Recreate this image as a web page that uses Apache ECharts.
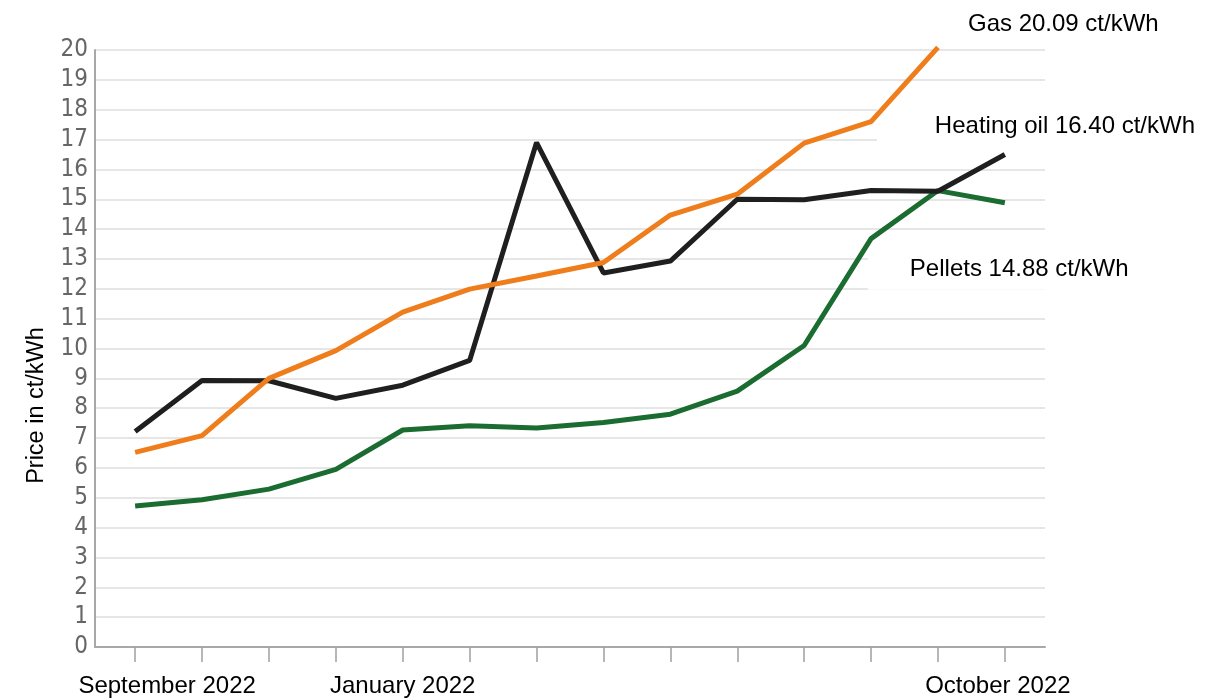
<!DOCTYPE html>
<html>
<head>
<meta charset="utf-8">
<script src="https://cdn.jsdelivr.net/npm/echarts@6/dist/echarts.min.js"></script>
<style>
html,body{margin:0;padding:0;background:#fff;}
#c{width:1216px;height:700px;}
</style>
</head>
<body>
<div id="c"></div>
<script>
// ---- data (monthly, 14 months) ----
const xTickLabels = ['September 2022', '', '', '', 'January 2022', '', '', '', '', '', '', '', '', 'October 2022'];
const xLabelIdx = [0, 4, 13];
const heatingOil = [7.22, 8.93, 8.92, 8.33, 8.77, 9.60, 16.90, 12.53, 12.93, 15.00, 14.98, 15.29, 15.27, 16.50];
const gas = [6.52, 7.08, 9.00, 9.93, 11.22, 11.99, 12.43, 12.88, 14.47, 15.17, 16.88, 17.60, 20.09];
const pellets = [4.72, 4.93, 5.29, 5.95, 7.27, 7.41, 7.34, 7.52, 7.80, 8.57, 10.10, 13.68, 15.29, 14.88];
const seriesNames = ['Heating oil', 'Gas', 'Pellets'];
const endLabelTexts = ['Heating oil 16.40 ct/kWh', 'Gas 20.09 ct/kWh', 'Pellets 14.88 ct/kWh'];
const yAxisTitle = 'Price in ct/kWh';

const FONT = "'Liberation Sans', Arial, sans-serif";
const TICKFONT = "'DejaVu Sans Condensed', 'DejaVu Sans', sans-serif";

function pairs(arr) { return arr.map((v, i) => [i, v]); }

function endLabel(text, offset, padding, bg) {
  return {
    show: true,
    formatter: text,
    align: 'left',
    verticalAlign: 'middle',
    distance: 0,
    offset: offset,
    color: '#000',
    fontFamily: FONT,
    fontSize: 24,
    lineHeight: 28,
    padding: padding,
    backgroundColor: bg
  };
}

const chart = echarts.init(document.getElementById('c'), null, { renderer: 'canvas' });
chart.setOption({
  animation: false,
  backgroundColor: '#fff',
  grid: { left: 95, right: 171, top: 50, bottom: 52, containLabel: false },
  xAxis: {
    type: 'value',
    min: -0.6,
    max: 13.6,
    splitLine: { show: false },
    axisLine: { show: true, onZero: false, lineStyle: { color: '#a8a8a8', width: 2 } },
    axisTick: {
      show: true,
      customValues: xTickLabels.map((_, i) => i),
      length: 15,
      lineStyle: { color: '#a0a0a0', width: 1.5 }
    },
    axisLabel: {
      show: true,
      customValues: xLabelIdx,
      margin: 25,
      color: '#000',
      fontFamily: FONT,
      fontSize: 24,
      lineHeight: 28,
      formatter: function (v) {
        const i = Math.round(v);
        const t = xTickLabels[i] || '';
        return i === 0 ? '{first|' + t + '}' : (i === xTickLabels.length - 1 ? '{last|' + t + '}' : t);
      },
      rich: {
        first: { fontFamily: FONT, fontSize: 24, lineHeight: 28, color: '#000', padding: [0, 0, 0, 64] },
        last: { fontFamily: FONT, fontSize: 24, lineHeight: 28, color: '#000', padding: [0, 14, 0, 0] }
      }
    }
  },
  yAxis: {
    type: 'value',
    min: 0,
    max: 20,
    interval: 1,
    axisLine: { show: true, onZero: false, lineStyle: { color: '#a8a8a8', width: 2 } },
    axisTick: { show: false },
    splitLine: { show: true, lineStyle: { color: '#dedede', width: 1.5 } },
    axisLabel: { color: '#666666', fontFamily: TICKFONT, fontSize: 24, margin: 7 },
    name: '{n|' + yAxisTitle + '}',
    nameLocation: 'middle',
    nameGap: 46,
    nameTextStyle: {
      rich: { n: { fontFamily: FONT, fontSize: 23.5, color: '#000', padding: [0, 114, 0, 0] } }
    }
  },
  series: [
    {
      name: seriesNames[2], type: 'line', data: pairs(pellets), showSymbol: false, symbol: 'none',
      lineStyle: { color: '#1b6c31', width: 5 }, itemStyle: { color: '#1b6c31' }, z: 2,
      endLabel: endLabel(endLabelTexts[2], [-137, 67], [6, 10, 6, 42], '#fff')
    },
    {
      name: seriesNames[1], type: 'line', data: pairs(gas), showSymbol: false, symbol: 'none', clip: false,
      lineStyle: { color: '#ef7d1b', width: 5 }, itemStyle: { color: '#ef7d1b' }, z: 4,
      endLabel: endLabel(endLabelTexts[1], [30, -22.5], [0, 0, 0, 0], 'transparent')
    },
    {
      name: seriesNames[0], type: 'line', data: pairs(heatingOil), showSymbol: false, symbol: 'none',
      lineStyle: { color: '#1f1f1f', width: 5 }, itemStyle: { color: '#1f1f1f' }, z: 3,
      endLabel: endLabel(endLabelTexts[0], [-128, -28.4], [6, 10, 6, 58], '#fff')
    }
  ]
});
</script>
</body>
</html>
